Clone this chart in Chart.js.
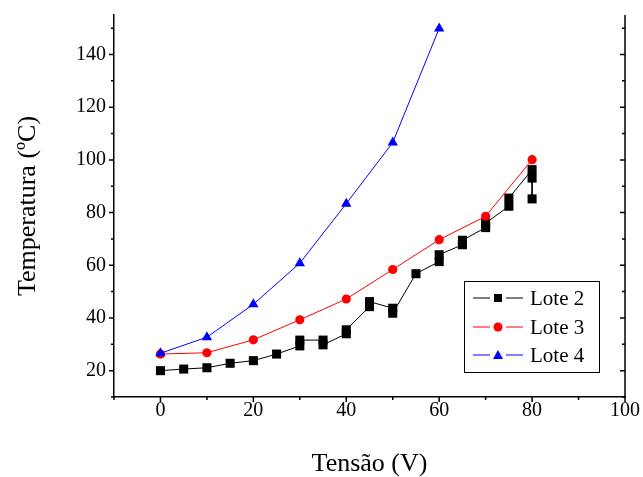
<!DOCTYPE html>
<html>
<head>
<meta charset="utf-8">
<script src="https://cdn.jsdelivr.net/npm/chart.js@4.4.0/dist/chart.umd.min.js"></script>
<style>
  html, body { margin: 0; padding: 0; background: #fff; }
  canvas { display: block; }
</style>
</head>
<body>
<canvas id="tempChart" width="643" height="477"></canvas>
<script>
// データ (読み取り値)
const lote2Tensao = [0, 5, 10, 15, 20, 25, 30, 30, 35, 35, 40, 40, 45, 45, 50, 50, 55, 60, 60, 65, 65, 70, 70, 75, 75, 80, 80, 80];
const lote2Temp = [20.0, 20.6, 21.1, 22.8, 23.8, 26.3, 29.4, 31.6, 31.6, 29.8, 34.0, 35.5, 44.3, 46.2, 43.7, 41.8, 56.8, 61.4, 64.0, 67.8, 69.5, 74.3, 76.0, 82.4, 85.5, 96.3, 93.1, 85.2];
const lote3Tensao = [0, 10, 20, 30, 40, 50, 60, 70, 80];
const lote3Temp = [26.3, 26.8, 31.7, 39.3, 47.2, 58.4, 69.7, 78.6, 100.1];
const lote4Tensao = [0, 10, 20, 30, 40, 50, 60];
const lote4Temp = [26.6, 32.7, 45.2, 60.8, 83.4, 106.6, 149.9];
const seriesNames = ['Lote 2', 'Lote 3', 'Lote 4'];
const xLabelTicks = [0, 20, 40, 60, 80, 100];
const yLabelTicks = [20, 40, 60, 80, 100, 120, 140];

Chart.defaults.font.family = "'Liberation Serif', 'Times New Roman', serif";
Chart.defaults.color = '#000';

function toPoints(xs, ys) {
  return xs.map((v, i) => ({ x: v, y: ys[i] }));
}

/**
 * 軸の目盛り・右軸・凡例を描く
 */
const axisFrame = {
  id: 'axisFrame',
  afterDraw(chart) {
    const {
      ctx,
      chartArea: { left, right, top, bottom },
      scales: { x, y },
    } = chart;
    ctx.save();
    ctx.strokeStyle = '#000';
    ctx.lineWidth = 1.5;
    ctx.beginPath();
    // 右の軸
    ctx.moveTo(right, top);
    ctx.lineTo(right, bottom);
    // x の目盛り (外向き)
    for (let v = -10; v <= 100; v += 10) {
      const px = x.getPixelForValue(v);
      const len = xLabelTicks.includes(v) ? 5 : 3;
      ctx.moveTo(px, bottom);
      ctx.lineTo(px, bottom + len);
    }
    // y の目盛り (左は外向き、右は内向き)
    for (let v = 10; v <= 150; v += 10) {
      const py = y.getPixelForValue(v);
      const len = yLabelTicks.includes(v) ? 5 : 3;
      ctx.moveTo(left, py);
      ctx.lineTo(left - len, py);
      ctx.moveTo(right, py);
      ctx.lineTo(right - len, py);
    }
    ctx.stroke();

    //凡例
    const box = { x: 464, y: 281, w: 135, h: 91 };
    ctx.lineWidth = 1;
    ctx.strokeRect(box.x + 0.5, box.y + 0.5, box.w, box.h);
    const rowY = [298, 327, 355];
    chart.data.datasets.forEach(function (dataset, i) {
      const cy = rowY[i];
      ctx.strokeStyle = dataset.borderColor;
      ctx.lineWidth = 1;
      ctx.beginPath();
      ctx.moveTo(473, cy);
      ctx.lineTo(490, cy);
      ctx.moveTo(506, cy);
      ctx.lineTo(523, cy);
      ctx.stroke();
      ctx.fillStyle = dataset.backgroundColor;
      ctx.beginPath();
      if (dataset.pointStyle === 'rect') {
        ctx.rect(498 - 4, cy - 4, 8, 8);
      } else if (dataset.pointStyle === 'circle') {
        ctx.arc(498, cy, 4.5, 0, Math.PI * 2);
      } else {
        ctx.moveTo(498, cy - 5);
        ctx.lineTo(503, cy + 4);
        ctx.lineTo(493, cy + 4);
        ctx.closePath();
      }
      ctx.fill();
      ctx.fillStyle = '#000';
      ctx.font = "21px 'Liberation Serif', serif";
      ctx.textAlign = 'left';
      ctx.textBaseline = 'middle';
      ctx.fillText(dataset.label, 530, cy + 1);
    });
    ctx.restore();
  },
};

const config = {
  type: 'line',
  data: {
    datasets: [
      {
        label: seriesNames[0],
        data: toPoints(lote2Tensao, lote2Temp),
        borderColor: '#000000',
        backgroundColor: '#000000',
        borderWidth: 1,
        pointStyle: 'rect',
        pointRadius: 6.4,
        pointBorderWidth: 0,
        order: 2,
      },
      {
        label: seriesNames[1],
        data: toPoints(lote3Tensao, lote3Temp),
        borderColor: '#ff0000',
        backgroundColor: '#ff0000',
        borderWidth: 1,
        pointStyle: 'circle',
        pointRadius: 4.6,
        pointBorderWidth: 0,
        order: 1,
      },
      {
        label: seriesNames[2],
        data: toPoints(lote4Tensao, lote4Temp),
        borderColor: '#0000ff',
        backgroundColor: '#0000ff',
        borderWidth: 1,
        pointStyle: 'triangle',
        pointRadius: 6,
        pointBorderWidth: 0,
        order: 0,
      },
    ],
  },
  options: {
    responsive: false,
    devicePixelRatio: 1,
    animation: false,
    events: [],
    layout: {
      padding: { left: 0, right: 18, top: 15, bottom: 0 },
    },
    plugins: {
      legend: { display: false },
      tooltip: { enabled: false },
    },
    scales: {
      x: {
        type: 'linear',
        min: -10,
        max: 100,
        grid: { display: false, drawTicks: false },
        border: { display: true, color: '#000', width: 1.5 },
        ticks: {
          stepSize: 10,
          autoSkip: false,
          maxRotation: 0,
          padding: 2,
          font: { size: 20 },
          callback: (v) => (xLabelTicks.includes(v) ? v : ''),
        },
        title: {
          display: true,
          text: 'Tensão (V)',
          font: { size: 26, lineHeight: 1 },
          padding: { top: 0, bottom: 0 },
        },
        afterFit(scale) {
          //はみ出し分の余白は使わない
          scale.height = 80;
          scale.paddingLeft = 0;
          scale.paddingRight = 0;
        },
      },
      y: {
        type: 'linear',
        min: 10,
        max: 155,
        grid: { display: false, drawTicks: false },
        border: { display: true, color: '#000', width: 1.5 },
        ticks: {
          stepSize: 10,
          autoSkip: false,
          padding: 8,
          font: { size: 20 },
          callback: (v) => (yLabelTicks.includes(v) ? v : ''),
        },
        title: {
          display: true,
          text: 'Temperatura (ºC)',
          font: { size: 26, lineHeight: 1 },
          padding: { top: 15, bottom: 0 },
        },
        afterFit(scale) {
          scale.width = 114;
          scale.paddingTop = 0;
          scale.paddingBottom = 0;
        },
      },
    },
  },
  plugins: [axisFrame],
};

//描画
new Chart(document.getElementById('tempChart'), config);
</script>
</body>
</html>
